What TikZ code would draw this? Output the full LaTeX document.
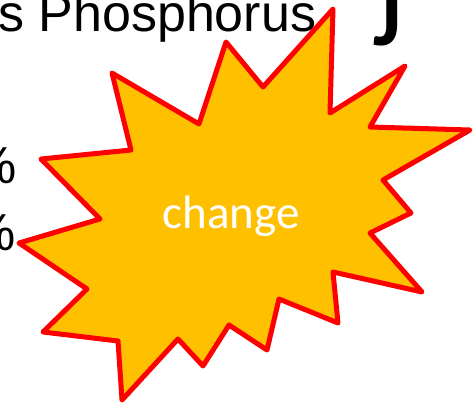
\documentclass[tikz,border=0pt]{standalone}
\usepackage{fontspec}
\setmainfont{Liberation Sans}
\newfontfamily\carlitofont{Carlito}
\definecolor{burstfill}{HTML}{FFC000}
\definecolor{burstline}{HTML}{FF0000}
\begin{document}
\begin{tikzpicture}[x=1pt,y=-1pt,
  bgtext/.style={inner sep=0pt,anchor=base west,text=black,font=\fontsize{52}{52}\selectfont},
  burst/.style={draw=burstline,fill=burstfill,line width=5pt,line join=round},
  bursttext/.style={inner sep=0pt,anchor=base,text=white,font=\carlitofont\fontsize{47}{47}\selectfont}]
\useasboundingbox (0,0) rectangle (475,405);
\node[bgtext] (title) at (-2,31) {s Phosphorus};
\node[inner sep=0pt,anchor=base east,text=black,font=\carlitofont\bfseries\fontsize{85}{85}\selectfont] (jay) at (402,45) {J};
\node[bgtext] (pctone) at (-30,183) {\%};
\node[bgtext] (pcttwo) at (-31,250) {\%};
\draw[burst] (112,73) -- (199,124) -- (226,42) -- (263,87) -- (333,9) -- (330,113)
  -- (405,66) -- (370,127) -- (470,130) -- (383,180) -- (411,213) -- (370,233)
  -- (422,292) -- (333,272) -- (338,323) -- (279,299) -- (267,350) -- (229,325)
  -- (203,366) -- (178,339) -- (122,400) -- (118,341) -- (43,332) -- (87,289)
  -- (19,243) -- (100,219) -- (41,159) -- (131,150) -- cycle;
\node[bursttext] (change) at (231,228) {change};
\end{tikzpicture}
\end{document}
